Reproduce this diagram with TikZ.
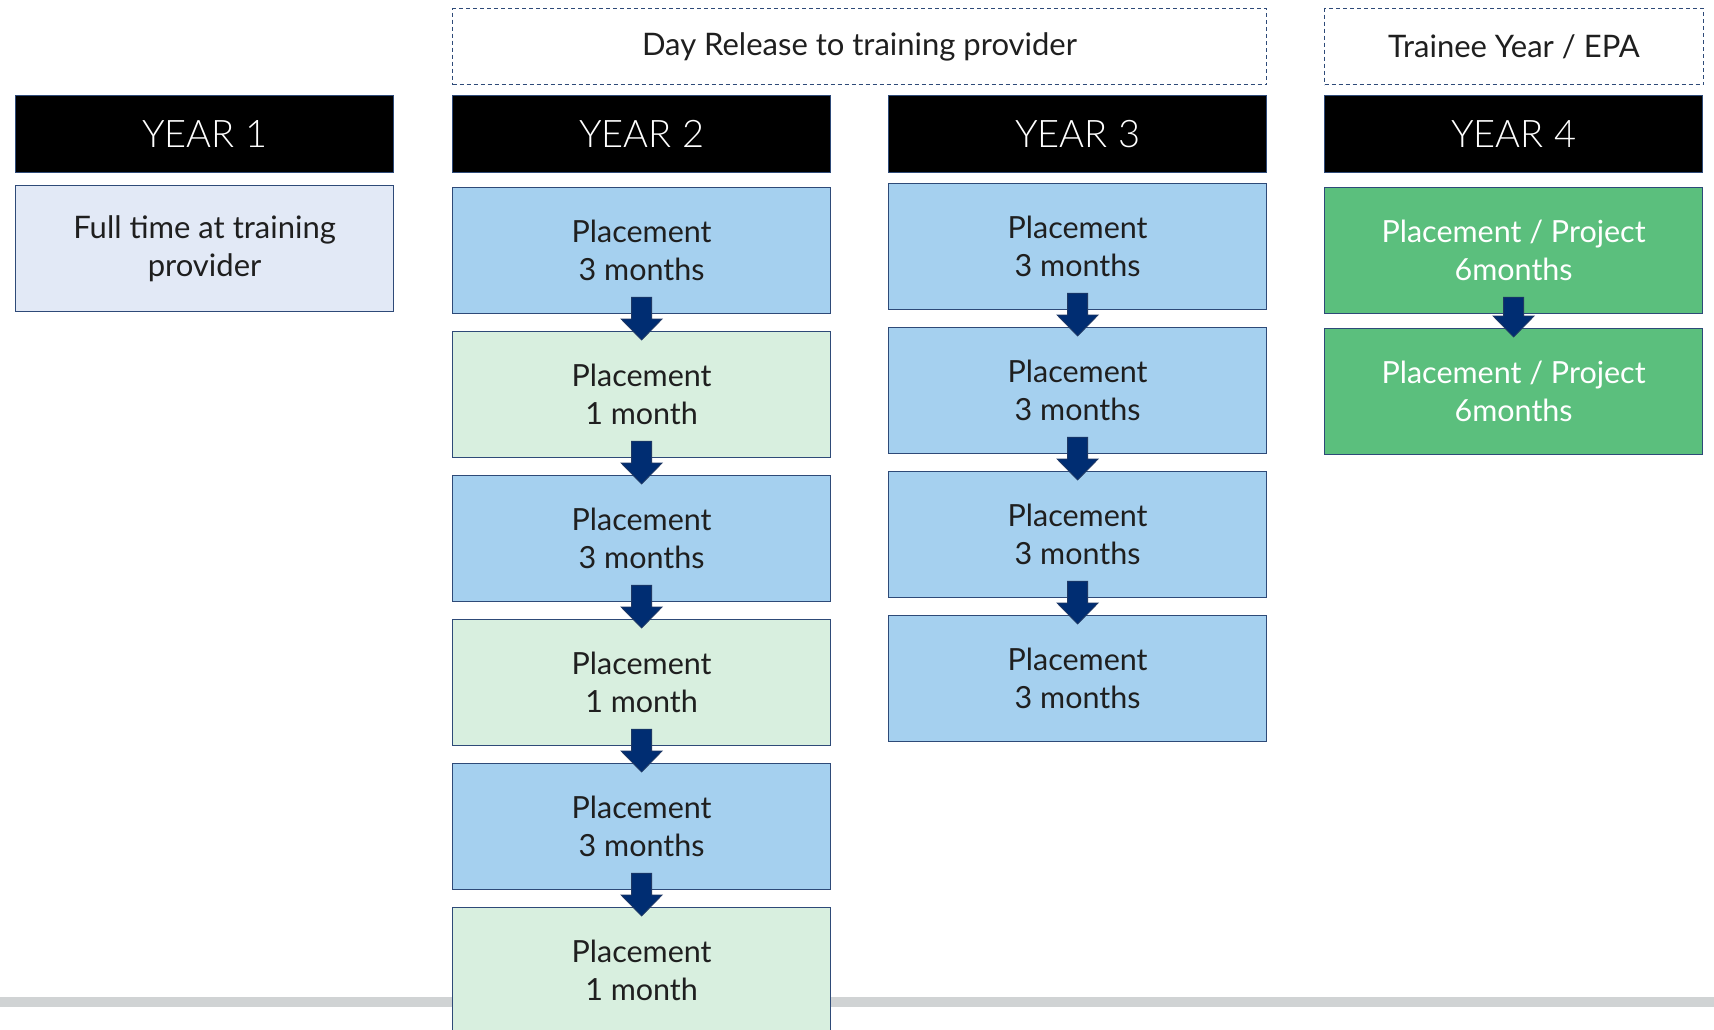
\documentclass[tikz,border=0pt]{standalone}
\usepackage{fontspec}
\setmainfont{Lato}
\newfontfamily\thinfont{Lato Light}
\usetikzlibrary{calc}
\definecolor{navy}{HTML}{002D72}
\definecolor{navyd}{HTML}{1F3864}
\definecolor{bord}{HTML}{2E4A78}
\definecolor{lblue}{HTML}{A5D0EF}
\definecolor{lgreen}{HTML}{D8EFDF}
\definecolor{paleb}{HTML}{E2E9F6}
\definecolor{mgreen}{HTML}{5BBF7D}
\definecolor{grayl}{HTML}{D0D3D4}
\newcommand\flowarrow[2]{%
  \filldraw[fill=navy, draw=navyd, line width=0.8pt]
    ($(#1.south)+(-10,17)$) -- ($(#1.south)+(10,17)$) --
    ($(#2.north)+(10,12)$) -- ($(#2.north)+(20.5,12)$) --
    ($(#2.north)+(0,-9)$) -- ($(#2.north)+(-20.5,12)$) --
    ($(#2.north)+(-10,12)$) -- cycle;}
\begin{document}
\begin{tikzpicture}[x=1pt,y=1pt,
  box/.style={draw=bord, line width=1.2pt, minimum width=378pt, minimum height=126pt,
    anchor=north west, inner sep=0pt, align=center,
    font=\fontsize{30.5}{38}\selectfont, text=black!88},
  pblue/.style={box, fill=lblue},
  pgreen/.style={box, fill=lgreen},
  pdark/.style={box, fill=mgreen, text=white},
  pfull/.style={box, fill=paleb, font=\fontsize{31}{38}\selectfont},
  headbox/.style={box, fill=black, text=white, minimum height=77pt,
    font=\thinfont\fontsize{38}{40}\selectfont},
  dbox/.style={draw=bord, dash pattern=on 4pt off 3pt, line width=1pt,
    minimum height=76pt, anchor=north west, inner sep=0pt,
    font=\fontsize{31}{34}\selectfont, text=black!88}
]
\useasboundingbox (0,0) rectangle (1714,-1029);
\fill[white] (0,0) rectangle (1714,-1029);
\fill[grayl] (0,-997) rectangle (1714,-1007);

% top dashed labels
\node[dbox, minimum width=814pt] (dr) at (452,-8) {Day Release to training provider};
\node[dbox, minimum width=379pt] (ty) at (1324,-8) {Trainee Year / EPA};

% headers
\node[headbox] (h1) at (15,-95) {YEAR 1};
\node[headbox] (h2) at (452,-95) {YEAR 2};
\node[headbox] (h3) at (888,-95) {YEAR 3};
\node[headbox] (h4) at (1324,-95) {YEAR 4};

% year 1
\node[pfull] (a1) at (15,-185) {Full time at training\\provider};

% year 2
\node[pblue]  (b1) at (452,-187) {Placement\\3 months};
\node[pgreen] (b2) at (452,-331) {Placement\\1 month};
\node[pblue]  (b3) at (452,-475) {Placement\\3 months};
\node[pgreen] (b4) at (452,-619) {Placement\\1 month};
\node[pblue]  (b5) at (452,-763) {Placement\\3 months};
\node[pgreen] (b6) at (452,-907) {Placement\\1 month};

% year 3
\node[pblue] (c1) at (888,-183) {Placement\\3 months};
\node[pblue] (c2) at (888,-327) {Placement\\3 months};
\node[pblue] (c3) at (888,-471) {Placement\\3 months};
\node[pblue] (c4) at (888,-615) {Placement\\3 months};

% year 4
\node[pdark] (d1) at (1324,-187) {Placement / Project\\6months};
\node[pdark] (d2) at (1324,-328) {Placement / Project\\6months};

% arrows
\flowarrow{b1}{b2}
\flowarrow{b2}{b3}
\flowarrow{b3}{b4}
\flowarrow{b4}{b5}
\flowarrow{b5}{b6}
\flowarrow{c1}{c2}
\flowarrow{c2}{c3}
\flowarrow{c3}{c4}
\flowarrow{d1}{d2}
\end{tikzpicture}
\end{document}
